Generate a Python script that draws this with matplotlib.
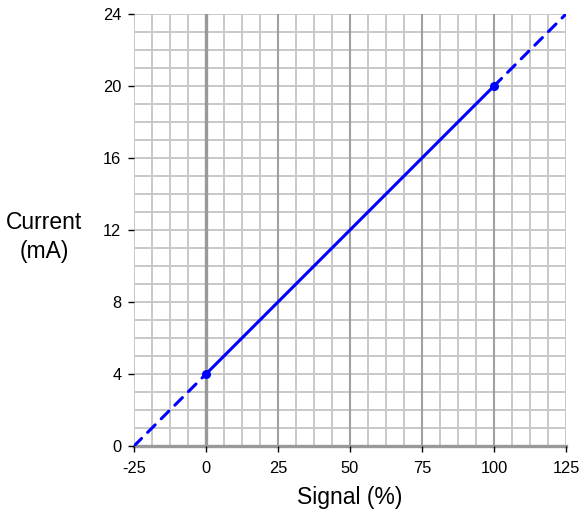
import matplotlib
matplotlib.use("Agg")
import matplotlib.pyplot as plt
import numpy as np

plt.rcParams['font.family'] = ['Liberation Sans', 'DejaVu Sans']
plt.rcParams['axes.unicode_minus'] = False

# Data
signal_solid = [0, 100]
current_solid = [4, 20]
signal_dash_low = [-25, 0]
current_dash_low = [0, 4]
signal_dash_high = [100, 125]
current_dash_high = [20, 24]
marker_signal = [0, 100]
marker_current = [4, 20]

x_ticks = [-25, 0, 25, 50, 75, 100, 125]
y_ticks = [0, 4, 8, 12, 16, 20, 24]

fig = plt.figure(figsize=(5.84, 5.16), dpi=100)
ax = fig.add_axes([134/584, 70/516, 432/584, 432/516])
ax.set_xlim(-25, 125)
ax.set_ylim(0, 24)

# Grid
minor_col = '#c8c8c8'
major_col = '#a0a0a0'
for xv in np.arange(-25, 125.01, 6.25):
    ax.axvline(xv, color=minor_col, lw=1.4, zorder=0)
for yv in np.arange(0, 24.01, 1):
    ax.axhline(yv, color=minor_col, lw=1.4, zorder=0)
for xv in [25, 50, 75, 100]:
    ax.axvline(xv, color=major_col, lw=1.5, zorder=0.5)
ax.axvline(0, color='#999999', lw=2.4, zorder=0.5)
ax.axhline(0, color='#999999', lw=2.4, zorder=0.5, clip_on=False)

for s in ax.spines.values():
    s.set_visible(False)

blue = '#0000ff'
ax.plot(signal_solid, current_solid, color=blue, lw=2.2, solid_capstyle='round', zorder=3)
ax.plot(signal_dash_low, current_dash_low, color=blue, lw=2.2, dashes=(3.5, 2.8),
        dash_capstyle='round', zorder=3)
ax.plot(signal_dash_high, current_dash_high, color=blue, lw=2.2, dashes=(3.5, 2.8),
        dash_capstyle='round', zorder=3)
ax.plot(marker_signal, marker_current, 'o', color=blue, ms=5.5, zorder=4)

ax.set_xticks(x_ticks)
ax.set_yticks(y_ticks)
ax.tick_params(axis='both', direction='out', length=4, width=1, color='black',
               labelsize=11.8)
ax.tick_params(axis='y', pad=5)
ax.tick_params(axis='x', pad=7)

ax.set_xlabel('Signal (%)', fontsize=16.5, labelpad=7)
fig.text(44/584, 1 - 237/516, 'Current\n(mA)', fontsize=16.5, ha='center', va='center',
         linespacing=1.35)

fig.savefig('out.png', dpi=100)
